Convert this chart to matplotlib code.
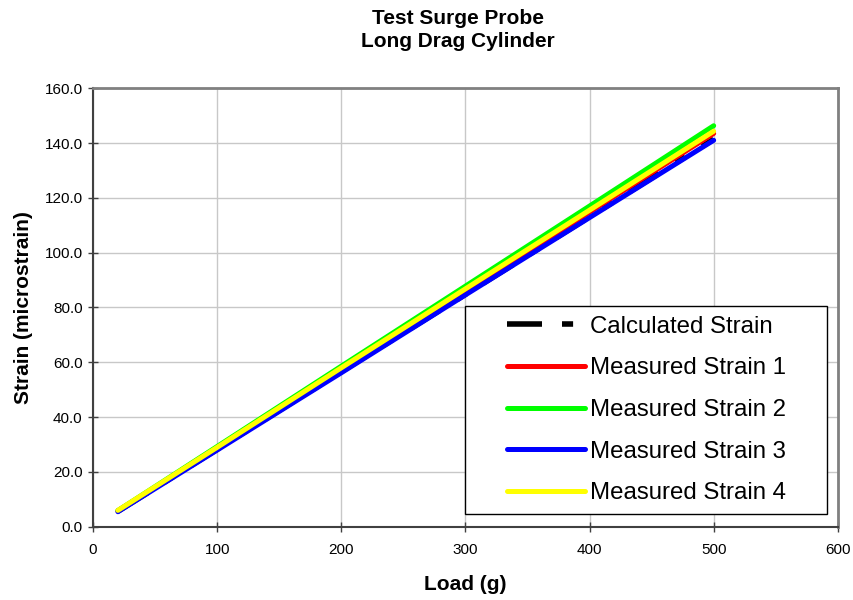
import matplotlib
matplotlib.use("Agg")
import matplotlib.pyplot as plt
from matplotlib.patches import Rectangle

plt.rcParams['font.family'] = ['Liberation Sans', 'DejaVu Sans']

# load steps (g) and strain readings (microstrain)
load = [20, 100, 200, 300, 400, 500]
calculated = [5.7, 28.3, 56.6, 84.8, 113.1, 141.4]
measured_1 = [5.8, 28.6, 57.4, 86.0, 114.8, 143.5]
measured_2 = [5.9, 29.3, 58.6, 87.8, 117.0, 146.3]
measured_3 = [5.5, 28.0, 56.2, 84.6, 112.8, 141.0]
measured_4 = [6.0, 29.0, 58.0, 86.8, 115.5, 144.3]

fig = plt.figure(figsize=(8.54, 6.0), dpi=100)
ax = fig.add_axes([0.109, 0.122, 0.872, 0.731])

ax.plot(load, calculated, color='black', lw=4, dashes=(6.3, 3.6, 2.0, 3.6),
        dash_capstyle='butt', label='Calculated Strain', zorder=2)
series = [
    (measured_1, '#ff0000', 'Measured Strain 1'),
    (measured_2, '#00ff00', 'Measured Strain 2'),
    (measured_3, '#0000ff', 'Measured Strain 3'),
    (measured_4, '#ffff00', 'Measured Strain 4'),
]
for i, (vals, col, lab) in enumerate(series):
    ax.plot(load, vals, color=col, lw=3.6, solid_capstyle='round', label=lab, zorder=3 + i * 0.1)

ax.set_xlim(0, 600)
ax.set_ylim(0, 160)
ax.set_xticks(range(0, 601, 100))
ax.set_yticks(range(0, 161, 20))
ax.set_yticklabels([f"{v:.1f}" for v in range(0, 161, 20)])
ax.tick_params(labelsize=11, direction='inout', length=7, width=1, color='#404040')
ax.tick_params(axis='x', pad=8)
ax.tick_params(axis='y', pad=4)
ax.grid(True, color='#c8c8c8', lw=1)
ax.set_axisbelow(True)
for side in ['top', 'right']:
    ax.spines[side].set_color('#808080')
    ax.spines[side].set_linewidth(2)
for side in ['left', 'bottom']:
    ax.spines[side].set_color('#404040')
    ax.spines[side].set_linewidth(1.5)

ax.set_xlabel('Load (g)', fontsize=15, fontweight='bold', labelpad=13)
ax.set_ylabel('Strain (microstrain)', fontsize=15, fontweight='bold', labelpad=8)
fig.text(0.536, 0.985, 'Test Surge Probe\nLong Drag Cylinder', fontsize=15,
         fontweight='bold', ha='center', va='top', linespacing=1.25)

leg = ax.legend(loc='center', bbox_to_anchor=(0.743, 0.2665), fontsize=17.3,
                frameon=False, handlelength=3.25, labelspacing=0.82,
                borderpad=0.4, handletextpad=0.2)
leg.set_zorder(6)

# legend frame with wider side margins than the legend's own padding
fig.canvas.draw()
bb = leg.get_window_extent().transformed(ax.transAxes.inverted())
side = 32 / (ax.bbox.width)
ax.add_patch(Rectangle((bb.x0 - side, bb.y0), bb.width + 2 * side, bb.height,
                       transform=ax.transAxes, facecolor='white', edgecolor='black',
                       lw=1, zorder=5.5, clip_on=False))

fig.savefig('out.png', dpi=100)
